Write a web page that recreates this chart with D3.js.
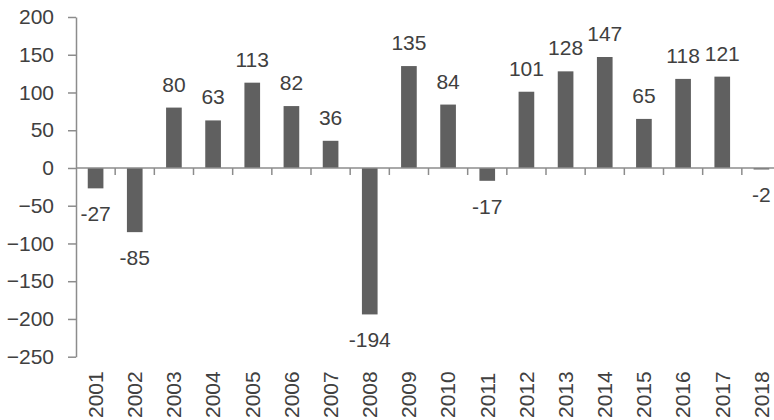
<!DOCTYPE html>
<html>
<head>
<meta charset="utf-8">
<script src="https://cdn.jsdelivr.net/npm/d3@7"></script>
<style>
  body { margin: 0; background: #fff; }
  text { font-family: "Liberation Sans", Arial, sans-serif; fill: #404040; }
</style>
</head>
<body>
<div class="plot"></div>
<script>
// data
var years = ["2001","2002","2003","2004","2005","2006","2007","2008","2009",
             "2010","2011","2012","2013","2014","2015","2016","2017","2018"];
var values = [-27, -85, 80, 63, 113, 82, 36, -194, 135, 84, -17, 101, 128, 147, 65, 118, 121, -2];
var yTicks = [200, 150, 100, 50, 0, -50, -100, -150, -200, -250];

var svgWidth = 774;
var svgHeight = 420;

var svg = d3.select(".plot")
  .append("svg")
  .attr("width", svgWidth)
  .attr("height", svgHeight);

// scales (chart is clipped on the right like the original)
var xScale = d3.scaleBand()
  .domain(years)
  .range([76, 781])
  .paddingInner(0.6)
  .paddingOuter(0.3);

var yScale = d3.scaleLinear()
  .domain([-250, 200])
  .range([356.7, 17]);

var axisColor = "#8c8c8c";

// y axis
var yAxis = svg.append("g")
  .attr("transform", "translate(76,0)")
  .call(d3.axisLeft(yScale).tickValues(yTicks).tickSize(8).tickSizeOuter(0).tickPadding(14));
yAxis.select(".domain").attr("stroke", axisColor).attr("stroke-width", 1.5);
yAxis.selectAll(".tick line").attr("stroke", axisColor).attr("stroke-width", 1.5);
yAxis.selectAll(".tick text")
  .style("font-size", "21px")
  .attr("fill", "#404040");

// bars
svg.selectAll("rect.bar")
  .data(values)
  .enter()
  .append("rect")
  .attr("class", "bar")
  .attr("x", (d, i) => xScale(years[i]))
  .attr("width", xScale.bandwidth())
  .attr("y", d => yScale(Math.max(0, d)))
  .attr("height", d => Math.abs(yScale(d) - yScale(0)))
  .attr("fill", "#606060");

// zero line with category ticks
var step = xScale.step();
var x0 = 76;
svg.append("line")
  .attr("x1", x0).attr("x2", 781)
  .attr("y1", yScale(0)).attr("y2", yScale(0))
  .attr("stroke", axisColor).attr("stroke-width", 1.5);

svg.selectAll("line.ctick")
  .data(years)
  .enter()
  .append("line")
  .attr("class", "ctick")
  .attr("x1", (d, i) => x0 + (i + 1) * step)
  .attr("x2", (d, i) => x0 + (i + 1) * step)
  .attr("y1", yScale(0))
  .attr("y2", yScale(0) + 7)
  .attr("stroke", axisColor).attr("stroke-width", 1.5);

// value labels
svg.selectAll("text.val")
  .data(values)
  .enter()
  .append("text")
  .attr("class", "val")
  .attr("x", (d, i) => xScale(years[i]) + xScale.bandwidth() / 2)
  .attr("y", d => d >= 0 ? yScale(d) - 16 : yScale(d) + 33)
  .style("font-size", "21px")
  .style("text-anchor", "middle")
  .text(d => d);

// year labels
svg.selectAll("text.year")
  .data(years)
  .enter()
  .append("text")
  .attr("class", "year")
  .attr("transform", d => `translate(${xScale(d) + xScale.bandwidth() / 2}, 418) rotate(-90)`)
  .attr("dy", "0.35em")
  .style("font-size", "21px")
  .style("text-anchor", "start")
  .text(d => d);
</script>
</body>
</html>
